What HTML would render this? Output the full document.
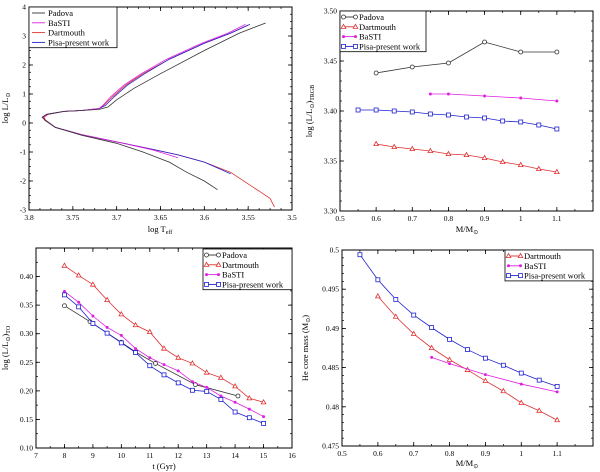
<!DOCTYPE html>
<html><head><meta charset="utf-8">
<style>
body{margin:0;background:#fff;}
svg{display:block;font-family:"Liberation Serif",serif;}
</style></head>
<body>
<svg id="c" width="600" height="472" viewBox="0 0 600 472"></svg>
<script>
// ---- Panel 1 data (HR diagram) ----
const hrMainT = [3.52,3.525,3.535,3.55,3.57,3.6,3.63,3.66,3.7,3.74,3.77,3.781,3.783,3.778,3.76,3.74,3.72,3.715,3.705,3.69,3.67,3.64,3.6,3.57,3.55];
const hrMainL = [-2.9,-2.6,-2.4,-2.1,-1.7,-1.35,-1.1,-0.9,-0.65,-0.4,-0.15,0.1,0.2,0.3,0.4,0.43,0.5,0.6,0.9,1.3,1.7,2.2,2.75,3.1,3.38];
const hrPisaT = [3.57,3.6,3.63,3.66,3.7,3.74,3.77,3.782,3.784,3.779,3.76,3.74,3.72,3.713,3.703,3.688,3.668,3.64,3.6,3.57,3.548];
const hrPisaL = [-1.75,-1.35,-1.1,-0.9,-0.65,-0.4,-0.15,0.1,0.2,0.3,0.4,0.43,0.5,0.6,0.9,1.3,1.7,2.2,2.75,3.1,3.4];
const hrBastiT = [3.63,3.66,3.7,3.74,3.77,3.782,3.784,3.779,3.76,3.74,3.72,3.716,3.707,3.692,3.672,3.643,3.603,3.573,3.553];
const hrBastiL = [-1.2,-0.92,-0.65,-0.4,-0.15,0.1,0.2,0.3,0.4,0.43,0.5,0.6,0.9,1.3,1.7,2.2,2.75,3.1,3.4];
const hrPadT = [3.585,3.6,3.62,3.64,3.67,3.7,3.74,3.77,3.782,3.785,3.78,3.76,3.74,3.72,3.71,3.70,3.68,3.65,3.6,3.56,3.53];
const hrPadL = [-2.3,-2.0,-1.7,-1.35,-1.0,-0.7,-0.42,-0.15,0.1,0.2,0.3,0.4,0.43,0.47,0.55,0.8,1.2,1.7,2.5,3.1,3.45];
// ---- Panel 2 data (TRGB luminosity) ----
const p2PadX = [0.6,0.7,0.8,0.9,1.0,1.1];
const p2PadY = [3.438,3.444,3.448,3.469,3.459,3.459];
const p2DartX = [0.6,0.65,0.7,0.75,0.8,0.85,0.9,0.95,1.0,1.05,1.1];
const p2DartY = [3.367,3.364,3.362,3.360,3.357,3.356,3.353,3.349,3.346,3.342,3.339];
const p2BasX = [0.75,0.8,0.9,1.0,1.1];
const p2BasY = [3.417,3.417,3.415,3.413,3.410];
const p2PisaX = [0.55,0.6,0.65,0.7,0.75,0.8,0.85,0.9,0.95,1.0,1.05,1.1];
const p2PisaY = [3.401,3.401,3.400,3.399,3.397,3.396,3.394,3.393,3.390,3.389,3.386,3.382];
// ---- Panel 3 data (TO luminosity vs age) ----
const p3PadX = [8,8.9,10,10.5,11.2,12.6,14.1];
const p3PadY = [0.349,0.321,0.285,0.268,0.248,0.211,0.191];
const p3Ages = [8,8.5,9,9.5,10,10.5,11,11.5,12,12.5,13,13.5,14,14.5,15];
const p3DartY = [0.419,0.402,0.386,0.359,0.334,0.315,0.303,0.274,0.258,0.248,0.232,0.223,0.208,0.187,0.180];
const p3BasY = [0.374,0.355,0.331,0.311,0.297,0.274,0.258,0.246,0.235,0.216,0.206,0.191,0.180,0.168,0.155];
const p3PisaY = [0.368,0.347,0.318,0.301,0.284,0.267,0.244,0.228,0.214,0.201,0.199,0.185,0.163,0.153,0.143];
// ---- Panel 4 data (He core mass) ----
const p4DartX = [0.6,0.65,0.7,0.75,0.8,0.85,0.9,0.95,1.0,1.05,1.1];
const p4DartY = [0.4941,0.4915,0.4893,0.4875,0.4860,0.4847,0.4833,0.4820,0.4805,0.4795,0.4783];
const p4BasX = [0.75,0.8,0.9,1.0,1.1];
const p4BasY = [0.4863,0.4855,0.4841,0.4829,0.4819];
const p4PisaX = [0.55,0.6,0.65,0.7,0.75,0.8,0.85,0.9,0.95,1.0,1.05,1.1];
const p4PisaY = [0.4994,0.4962,0.4937,0.4917,0.4901,0.4886,0.4873,0.4862,0.4853,0.4843,0.4834,0.4826];

const NS="http://www.w3.org/2000/svg";
const svg=document.getElementById('c');
function mk(tag,attrs,parent){const e=document.createElementNS(NS,tag);for(const k in attrs)e.setAttribute(k,attrs[k]);(parent||svg).appendChild(e);return e;}
const COL={pad:'#333333',dart:'#e03030',bas:'#e020e0',pisa:'#2020d0'};

function panel(name,box,xr,yr,xt,yt,xminor,yminor,fmtX,fmtY){
  const g=mk('g',{});
  
  
  const sx=v=>box.x0+(v-xr[0])/(xr[1]-xr[0])*(box.x1-box.x0);
  const sy=v=>box.y1-(v-yr[0])/(yr[1]-yr[0])*(box.y1-box.y0);
  const frame=mk('rect',{x:box.x0,y:box.y0,width:box.x1-box.x0,height:box.y1-box.y0,fill:'none',stroke:'#000','stroke-width':1},g);
  
  
  xminor.forEach(v=>{const X=sx(v);mk('line',{x1:X,x2:X,y1:box.y1,y2:box.y1-2,stroke:'#000','stroke-width':0.7},g);mk('line',{x1:X,x2:X,y1:box.y0,y2:box.y0+2,stroke:'#000','stroke-width':0.7},g);});
  yminor.forEach(v=>{const Y=sy(v);mk('line',{x1:box.x0,x2:box.x0+2,y1:Y,y2:Y,stroke:'#000','stroke-width':0.7},g);mk('line',{x1:box.x1,x2:box.x1-2,y1:Y,y2:Y,stroke:'#000','stroke-width':0.7},g);});
  xt.forEach(v=>{const X=sx(v);mk('line',{x1:X,x2:X,y1:box.y1,y2:box.y1-4,stroke:'#000','stroke-width':0.8},g);mk('line',{x1:X,x2:X,y1:box.y0,y2:box.y0+4,stroke:'#000','stroke-width':0.8},g);
    const t=mk('text',{x:X,y:box.y1+10,'font-size':7.5,'text-anchor':'middle'},g);t.textContent=fmtX(v);
    });
  yt.forEach(v=>{const Y=sy(v);mk('line',{x1:box.x0,x2:box.x0+4,y1:Y,y2:Y,stroke:'#000','stroke-width':0.8},g);mk('line',{x1:box.x1,x2:box.x1-4,y1:Y,y2:Y,stroke:'#000','stroke-width':0.8},g);
    const t=mk('text',{x:box.x0-3,y:Y+2.5,'font-size':7.5,'text-anchor':'end'},g);t.textContent=fmtY(v);
    });
  return {g,sx,sy};
}
function marker(g,type,x,y,c){
  let e;
  if(type==='circle') e=mk('circle',{cx:x,cy:y,r:2,fill:'#fff',stroke:c,'stroke-width':0.8},g);
  else if(type==='tri') e=mk('polygon',{points:`${x},${y-2.5} ${x-2.3},${y+1.6} ${x+2.3},${y+1.6}`,fill:'#fff',stroke:c,'stroke-width':0.8},g);
  else if(type==='square') e=mk('rect',{x:x-2,y:y-2,width:4,height:4,fill:'#fff',stroke:c,'stroke-width':0.8},g);
  else e=mk('circle',{cx:x,cy:y,r:1.5,fill:c},g);
  
  
}
function series(p,name,xs,ys,c,type,w){
  const pts=xs.map((x,i)=>p.sx(x)+','+p.sy(ys[i])).join(' ');
  const l=mk('polyline',{points:pts,fill:'none',stroke:c,'stroke-width':w||0.8},p.g);
  
  
  if(type) xs.forEach((x,i)=>marker(p.g,type,p.sx(x),p.sy(ys[i]),c));
}
function legend(g,name,x,y,w,items,withMarker){
  const lg=mk('g',{},g);
  
  
  mk('rect',{x:x,y:y,width:w,height:items.length*9.8+1.5,fill:'#fff',stroke:'#000','stroke-width':0.8},lg);
  items.forEach((it,i)=>{const Y=y+6+i*9.8;
    const ln=mk('line',{x1:x+3,x2:x+16,y1:Y,y2:Y,stroke:it[1],'stroke-width':0.9},lg);
    if(withMarker){marker(lg,it[2],x+3.5,Y,it[1]);marker(lg,it[2],x+15.5,Y,it[1]);}
    const t=mk('text',{x:x+19,y:Y+3,'font-size':8.5},lg);t.textContent=it[0];
    });
}
function label(txt,x,y,rot,name){
  const t=mk('text',{x:x,y:y,'font-size':8.5,'text-anchor':'middle',transform:rot?`rotate(-90 ${x} ${y})`:''});
  t.innerHTML=txt;
  
  
}
const rng=(a,b,s)=>{const r=[];for(let v=a;v<=b+1e-9;v+=s)r.push(+v.toFixed(6));return r;};

// Panel 1
const p1=panel('hr-diagram-panel',{x0:29,x1:292,y0:7,y1:210},[3.8,3.5],[-3,4],rng(3.5,3.8,0.05),rng(-3,4,1),rng(3.5,3.8,0.0125),rng(-3,4,0.25),
  v=>(Math.abs(v-3.8)<1e-6?'3.8':Math.abs(v-3.7)<1e-6?'3.7':Math.abs(v-3.6)<1e-6?'3.6':Math.abs(v-3.5)<1e-6?'3.5':v.toFixed(2)),v=>String(v));
series(p1,'dartmouth-track',hrMainT,hrMainL,COL.dart,null,0.8);
series(p1,'pisa-track',hrPisaT,hrPisaL,COL.pisa,null,0.8);
series(p1,'basti-track',hrBastiT,hrBastiL,COL.bas,null,0.8);
series(p1,'padova-track',hrPadT,hrPadL,COL.pad,null,0.8);
legend(p1.g,'legend-hr',29,7,88,[['Padova',COL.pad],['BaSTI',COL.bas],['Dartmouth',COL.dart],['Pisa-present work',COL.pisa]],false);
label('log L/L<tspan font-size="6" dy="2">⊙</tspan>',8,108,true,'y-axis-title');
label('log T<tspan font-size="6" dy="2">eff</tspan>',160,232,false,'x-axis-title');

// Panel 2
const p2=panel('trgb-panel',{x0:340,x1:593,y0:11,y1:211},[0.5,1.2],[3.30,3.50],rng(0.5,1.1,0.1),rng(3.3,3.5,0.05),rng(0.5,1.2,0.05),rng(3.3,3.5,0.01),
  v=>(Math.abs(v-1)<1e-6?'1':String(v)),v=>v.toFixed(2));
series(p2,'padova-series',p2PadX,p2PadY,COL.pad,'circle');
series(p2,'dartmouth-series',p2DartX,p2DartY,COL.dart,'tri');
series(p2,'basti-series',p2BasX,p2BasY,COL.bas,'star');
series(p2,'pisa-series',p2PisaX,p2PisaY,COL.pisa,'square');
legend(p2.g,'legend-trgb',340,11,86,[['Padova',COL.pad,'circle'],['Dartmouth',COL.dart,'tri'],['BaSTI',COL.bas,'star'],['Pisa-present work',COL.pisa,'square']],true);
label('log (L/L<tspan font-size="6" dy="2">⊙</tspan><tspan dy="-2">)</tspan><tspan font-size="6" dy="2">TRGB</tspan>',312,111,true,'y-axis-title');
label('M/M<tspan font-size="6" dy="2">⊙</tspan>',467,232,false,'x-axis-title');

// Panel 3
const p3=panel('turnoff-panel',{x0:36,x1:292,y0:248,y1:448},[7,16],[0.10,0.45],rng(7,16,1),rng(0.1,0.4,0.05),rng(7,16,0.5),rng(0.1,0.45,0.025),
  v=>String(v),v=>v.toFixed(2));
series(p3,'padova-series',p3PadX,p3PadY,COL.pad,'circle');
series(p3,'dartmouth-series',p3Ages,p3DartY,COL.dart,'tri');
series(p3,'basti-series',p3Ages,p3BasY,COL.bas,'star');
series(p3,'pisa-series',p3Ages,p3PisaY,COL.pisa,'square');
legend(p3.g,'legend-turnoff',203,249,89,[['Padova',COL.pad,'circle'],['Dartmouth',COL.dart,'tri'],['BaSTI',COL.bas,'star'],['Pisa-present work',COL.pisa,'square']],true);
label('log (L/L<tspan font-size="6" dy="2">⊙</tspan><tspan dy="-2">)</tspan><tspan font-size="6" dy="2">TO</tspan>',8,348,true,'y-axis-title');
label('t (Gyr)',164,469,false,'x-axis-title');

// Panel 4
const p4=panel('he-core-panel',{x0:342,x1:593,y0:250,y1:446},[0.5,1.2],[0.475,0.5],rng(0.5,1.1,0.1),rng(0.475,0.5,0.005),rng(0.5,1.2,0.05),rng(0.475,0.5,0.001),
  v=>(Math.abs(v-1)<1e-6?'1':String(v)),v=>(Math.abs(v-0.5)<1e-6?'0.5':Math.abs(v-0.49)<1e-6?'0.49':Math.abs(v-0.48)<1e-6?'0.48':v.toFixed(3)));
series(p4,'dartmouth-series',p4DartX,p4DartY,COL.dart,'tri');
series(p4,'basti-series',p4BasX,p4BasY,COL.bas,'star');
series(p4,'pisa-series',p4PisaX,p4PisaY,COL.pisa,'square');
legend(p4.g,'legend-he-core',505,250,88,[['Dartmouth',COL.dart,'tri'],['BaSTI',COL.bas,'star'],['Pisa-present work',COL.pisa,'square']],true);
label('He core mass (M<tspan font-size="6" dy="2">⊙</tspan><tspan dy="-2">)</tspan>',308,348,true,'y-axis-title');
label('M/M<tspan font-size="6" dy="2">⊙</tspan>',467,466,false,'x-axis-title');
</script>
</body></html>
